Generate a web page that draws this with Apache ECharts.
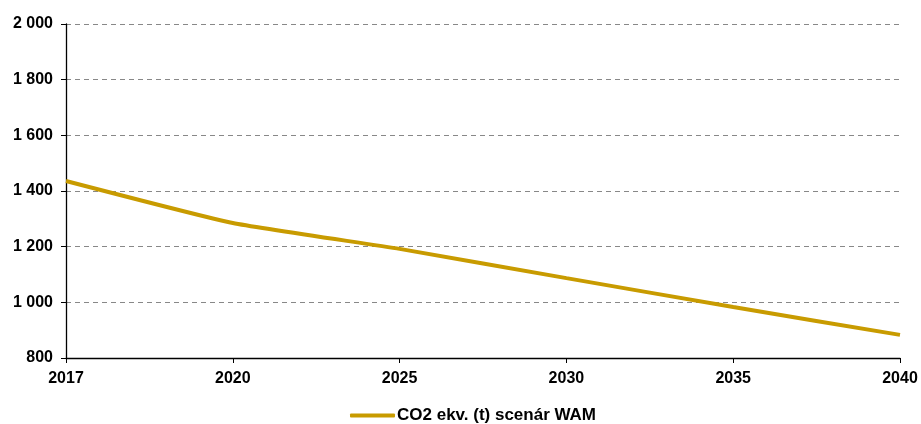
<!DOCTYPE html>
<html><head><meta charset="utf-8">
<script src="https://cdn.jsdelivr.net/npm/echarts@6/dist/echarts.min.js"></script>
<style>html,body{margin:0;padding:0;background:#fff}#c{width:921px;height:424px}</style>
</head><body><div id="c"></div>
<script>
const categories = ['2017','2020','2025','2030','2035','2040'];
const seriesName = 'CO2 ekv. (t) scenár WAM';
const values = [1436, 1285, 1192, 1087, 983, 883];

const chart = echarts.init(document.getElementById('c'));
const font = 'Liberation Sans, Arial, sans-serif';
chart.setOption({
  animation:false,
  grid:{left:66,right:21,top:24,bottom:66},
  legend:{top:407,left:350,padding:0,itemWidth:45,itemHeight:4,icon:'roundRect',itemGap:10,
    data:[seriesName],
    textStyle:{fontFamily:font,fontWeight:'bold',fontSize:17,color:'#000',padding:[0,0,0,-3]}},
  xAxis:{type:'category',data:categories,boundaryGap:false,
    axisLine:{lineStyle:{color:'#000',width:1.3}},
    axisTick:{show:true,length:5,lineStyle:{color:'#000'}},
    axisLabel:{fontFamily:font,fontWeight:'bold',fontSize:16,color:'#000',margin:13}},
  yAxis:{type:'value',min:800,max:2000,interval:200,
    axisLine:{show:true,lineStyle:{color:'#000',width:1.3}},
    axisTick:{show:true,length:5,lineStyle:{color:'#000'}},
    splitLine:{lineStyle:{color:'#888',type:[5,4]}},
    axisLabel:{fontFamily:font,fontWeight:'bold',fontSize:16,color:'#000',margin:13,
      formatter:v=>String(v).replace(/\B(?=(\d{3})+(?!\d))/g,' ')}},
  series:[{name:seriesName,type:'line',data:values,smooth:0.15,showSymbol:false,
    lineStyle:{color:'#C89B00',width:4},itemStyle:{color:'#C89B00'}}]
});
</script></body></html>
